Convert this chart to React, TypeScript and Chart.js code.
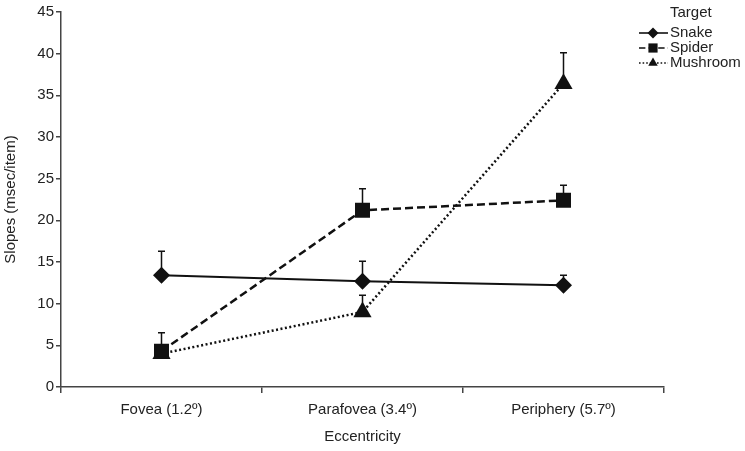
import { useEffect, useRef } from 'react';
import { Chart, registerables } from 'chart.js';

Chart.register(...registerables);

const categories = ['Fovea (1.2º)', 'Parafovea (3.4º)', 'Periphery (5.7º)'];
const seriesNames = ['Snake', 'Spider', 'Mushroom'];
const snake = [13.4, 12.7, 12.2];
const snakeErr = [2.9, 2.4, 1.2];
const spider = [4.3, 21.2, 22.4];
const spiderErr = [2.2, 2.6, 1.8];
const mushroom = [4.0, 9.0, 36.4];
const mushroomErr = [0.8, 2.0, 3.7];
const yTicks = [0, 5, 10, 15, 20, 25, 30, 35, 40, 45];
const legendTitle = 'Target';
const xTitle = 'Eccentricity';
const yTitle = 'Slopes (msec/item)';

const errors = [snakeErr, spiderErr, mushroomErr];
const styles = ['rectRot', 'rect', 'triangle'];
const dashes: number[][] = [[], [8, 4], [2, 2.5]];
const widths = [2, 2.5, 2.5];
const radii = [8.5, 10.6, 10.5];
const FONT = '"Liberation Sans", Arial, sans-serif';
const TEXT = '#222';
const AXIS = '#444';

function drawMarker(ctx: CanvasRenderingContext2D, style: string, x: number, y: number, r: number) {
  ctx.beginPath();
  if (style === 'rectRot') {
    ctx.moveTo(x - r, y);
    ctx.lineTo(x, y - r);
    ctx.lineTo(x + r, y);
    ctx.lineTo(x, y + r);
  } else if (style === 'rect') {
    const s = r * Math.SQRT1_2;
    ctx.rect(x - s, y - s, 2 * s, 2 * s);
  } else {
    ctx.moveTo(x, y - r);
    ctx.lineTo(x + r * Math.sin((2 * Math.PI) / 3), y + r / 2);
    ctx.lineTo(x - r * Math.sin((2 * Math.PI) / 3), y + r / 2);
  }
  ctx.closePath();
  ctx.fill();
}

const errorBars = {
  id: 'errorBars',
  beforeDatasetsDraw(chart: any) {
    const { ctx, scales } = chart;
    const y = scales.y;
    chart.data.datasets.forEach((ds: any, i: number) => {
      const meta = chart.getDatasetMeta(i);
      ds.data.forEach((v: number, j: number) => {
        const el = meta.data[j];
        const px = el.x;
        const top = y.getPixelForValue(v + errors[i][j]);
        ctx.save();
        ctx.strokeStyle = '#111';
        ctx.lineWidth = 1.5;
        ctx.beginPath();
        ctx.moveTo(px, el.y);
        ctx.lineTo(px, top);
        ctx.moveTo(px - 3.5, top);
        ctx.lineTo(px + 3.5, top);
        ctx.stroke();
        ctx.restore();
      });
    });
  },
};

const customLegend = {
  id: 'customLegend',
  afterDraw(chart: any) {
    const ctx: CanvasRenderingContext2D = chart.ctx;
    ctx.save();
    ctx.font = `15px ${FONT}`;
    ctx.fillStyle = TEXT;
    ctx.textBaseline = 'middle';
    ctx.textAlign = 'left';
    ctx.fillText(legendTitle, 670, 13);
    seriesNames.forEach((name, i) => {
      const yy = 33 + i * 15;
      ctx.strokeStyle = '#111';
      ctx.fillStyle = '#111';
      ctx.lineWidth = 1.6;
      ctx.setLineDash(dashes[i].map((d) => d * 0.8));
      ctx.beginPath();
      ctx.moveTo(639, yy);
      ctx.lineTo(668, yy);
      ctx.stroke();
      ctx.setLineDash([]);
      drawMarker(ctx, styles[i], 653, yy, i === 1 ? 6.5 : 5.5);
      ctx.fillStyle = TEXT;
      ctx.fillText(name, 670, yy);
    });
    ctx.restore();
  },
};

export default function App() {
  const ref = useRef<HTMLCanvasElement>(null);
  useEffect(() => {
    const values = [snake, spider, mushroom];
    const chart = new Chart(ref.current as HTMLCanvasElement, {
      type: 'line',
      data: {
        labels: categories,
        datasets: seriesNames.map((name, i) => ({
          label: name,
          data: values[i],
          borderColor: '#111',
          backgroundColor: '#111',
          borderWidth: widths[i],
          borderDash: dashes[i],
          pointStyle: styles[i] as any,
          pointRadius: radii[i],
          pointBorderWidth: 0,
          pointBackgroundColor: '#111',
          tension: 0,
          fill: false,
        })),
      },
      options: {
        animation: false,
        responsive: true,
        maintainAspectRatio: false,
        layout: { padding: { left: 0, right: 81, top: 12, bottom: 0 } },
        plugins: {
          legend: { display: false },
          tooltip: { enabled: false },
        },
        scales: {
          x: {
            type: 'category',
            offset: true,
            grid: {
              offset: true,
              drawOnChartArea: false,
              drawTicks: true,
              tickLength: 6,
              color: AXIS,
              lineWidth: 1.5,
            },
            border: { display: true, color: AXIS, width: 1.5 },
            ticks: {
              color: TEXT,
              font: { family: FONT, size: 15 },
              padding: 8,
              maxRotation: 0,
            },
            title: {
              display: true,
              text: xTitle,
              color: TEXT,
              font: { family: FONT, size: 15 },
              padding: { top: 0, bottom: 5 },
            },
            afterFit: (scale: any) => {
              scale.height = 64;
            },
          },
          y: {
            min: 0,
            max: 45,
            afterBuildTicks: (scale: any) => {
              scale.ticks = yTicks.map((v) => ({ value: v }));
            },
            grid: {
              drawOnChartArea: false,
              drawTicks: true,
              tickLength: 5,
              color: AXIS,
              lineWidth: 1.5,
            },
            border: { display: true, color: AXIS, width: 1.5 },
            ticks: {
              color: TEXT,
              font: { family: FONT, size: 15 },
              padding: 2,
            },
            title: {
              display: true,
              text: yTitle,
              color: TEXT,
              font: { family: FONT, size: 15 },
              padding: { top: 2, bottom: 0 },
            },
            afterFit: (scale: any) => {
              scale.width = 61;
            },
          },
        },
      },
      plugins: [errorBars, customLegend],
    });
    return () => chart.destroy();
  }, []);
  return (
    <div style={{ position: 'fixed', left: 0, top: 0, width: 745, height: 451, background: '#fff' }}>
      <canvas ref={ref} />
    </div>
  );
}
